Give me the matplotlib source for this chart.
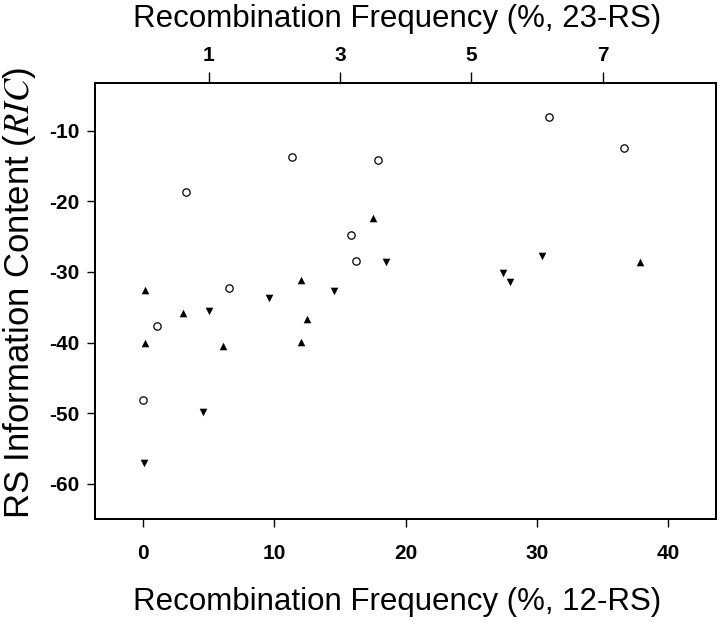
import matplotlib
matplotlib.use('Agg')
import matplotlib.pyplot as plt

plt.rcParams['font.family'] = ['Liberation Sans', 'DejaVu Sans']
plt.rcParams['mathtext.fontset'] = 'stix'
plt.rcParams['axes.unicode_minus'] = False

# 23-RS points (open circles), x in top-axis units
rs23_x = [0.0, 0.21, 0.65, 1.31, 2.27, 3.17, 3.24, 3.58, 6.18, 7.32]
rs23_y = [-48.1, -37.7, -18.7, -32.2, -13.7, -24.7, -28.4, -14.2, -8.0, -12.5]

# 12-RS points, up triangles
up_x = [0.13, 0.13, 3.07, 6.07, 12.0, 12.0, 12.5, 17.5, 37.85]
up_y = [-32.6, -40.1, -35.8, -40.5, -31.1, -39.9, -36.7, -22.4, -28.6]

# 12-RS points, down triangles
down_x = [0.1, 4.57, 5.05, 9.55, 14.5, 18.5, 27.4, 27.9, 30.4]
down_y = [-57.0, -49.8, -35.6, -33.7, -32.7, -28.6, -30.1, -31.4, -27.7]

xlim = (-3.66, 43.6)
ylim = (-65.0, -3.2)

fig = plt.figure(figsize=(7.2, 6.23), dpi=100)
ax = fig.add_axes([0.132, 0.167, 0.862, 0.70])

ax.scatter(up_x, up_y, marker='^', s=30, color='black', linewidths=0)
ax.scatter(down_x, down_y, marker='v', s=30, color='black', linewidths=0)
ax.set_xlim(*xlim)
ax.set_ylim(*ylim)
ax.set_xticks([0, 10, 20, 30, 40])
ax.set_yticks([-10, -20, -30, -40, -50, -60])

ax2 = ax.twiny()
ax2.scatter(rs23_x, rs23_y, marker='o', s=28, facecolors='white',
            edgecolors='black', linewidths=0.9)
ax2.set_xlim(xlim[0] / 5, xlim[1] / 5)
ax2.set_xticks([1, 3, 5, 7])

for a in (ax, ax2):
    for s in a.spines.values():
        s.set_linewidth(1.4)
    for lab in a.get_xticklabels() + a.get_yticklabels():
        lab.set_fontweight('bold')
ax.tick_params(axis='x', direction='out', length=6, width=1.0, labelsize=15, pad=12)
ax.tick_params(axis='y', direction='out', length=6, width=1.0, labelsize=15, pad=5)
ax2.tick_params(axis='x', direction='out', length=8, width=1.0, labelsize=15, pad=5)

ax.set_xlabel('Recombination Frequency (%, 12-RS)', fontsize=22.5)
ax.set_ylabel(r'RS Information Content ($\mathit{RIC}$)', fontsize=25)
ax2.set_xlabel('Recombination Frequency (%, 23-RS)', fontsize=22.5)

ax.xaxis.set_label_coords(0.486, -0.19)
ax.xaxis.label.set_va('center')
ax2.xaxis.set_label_coords(0.486, 1.147)
ax2.xaxis.label.set_va('center')
ax.yaxis.set_label_coords(-0.122, 0.518)
ax.yaxis.label.set_va('center')

fig.savefig('out.png', dpi=100)
